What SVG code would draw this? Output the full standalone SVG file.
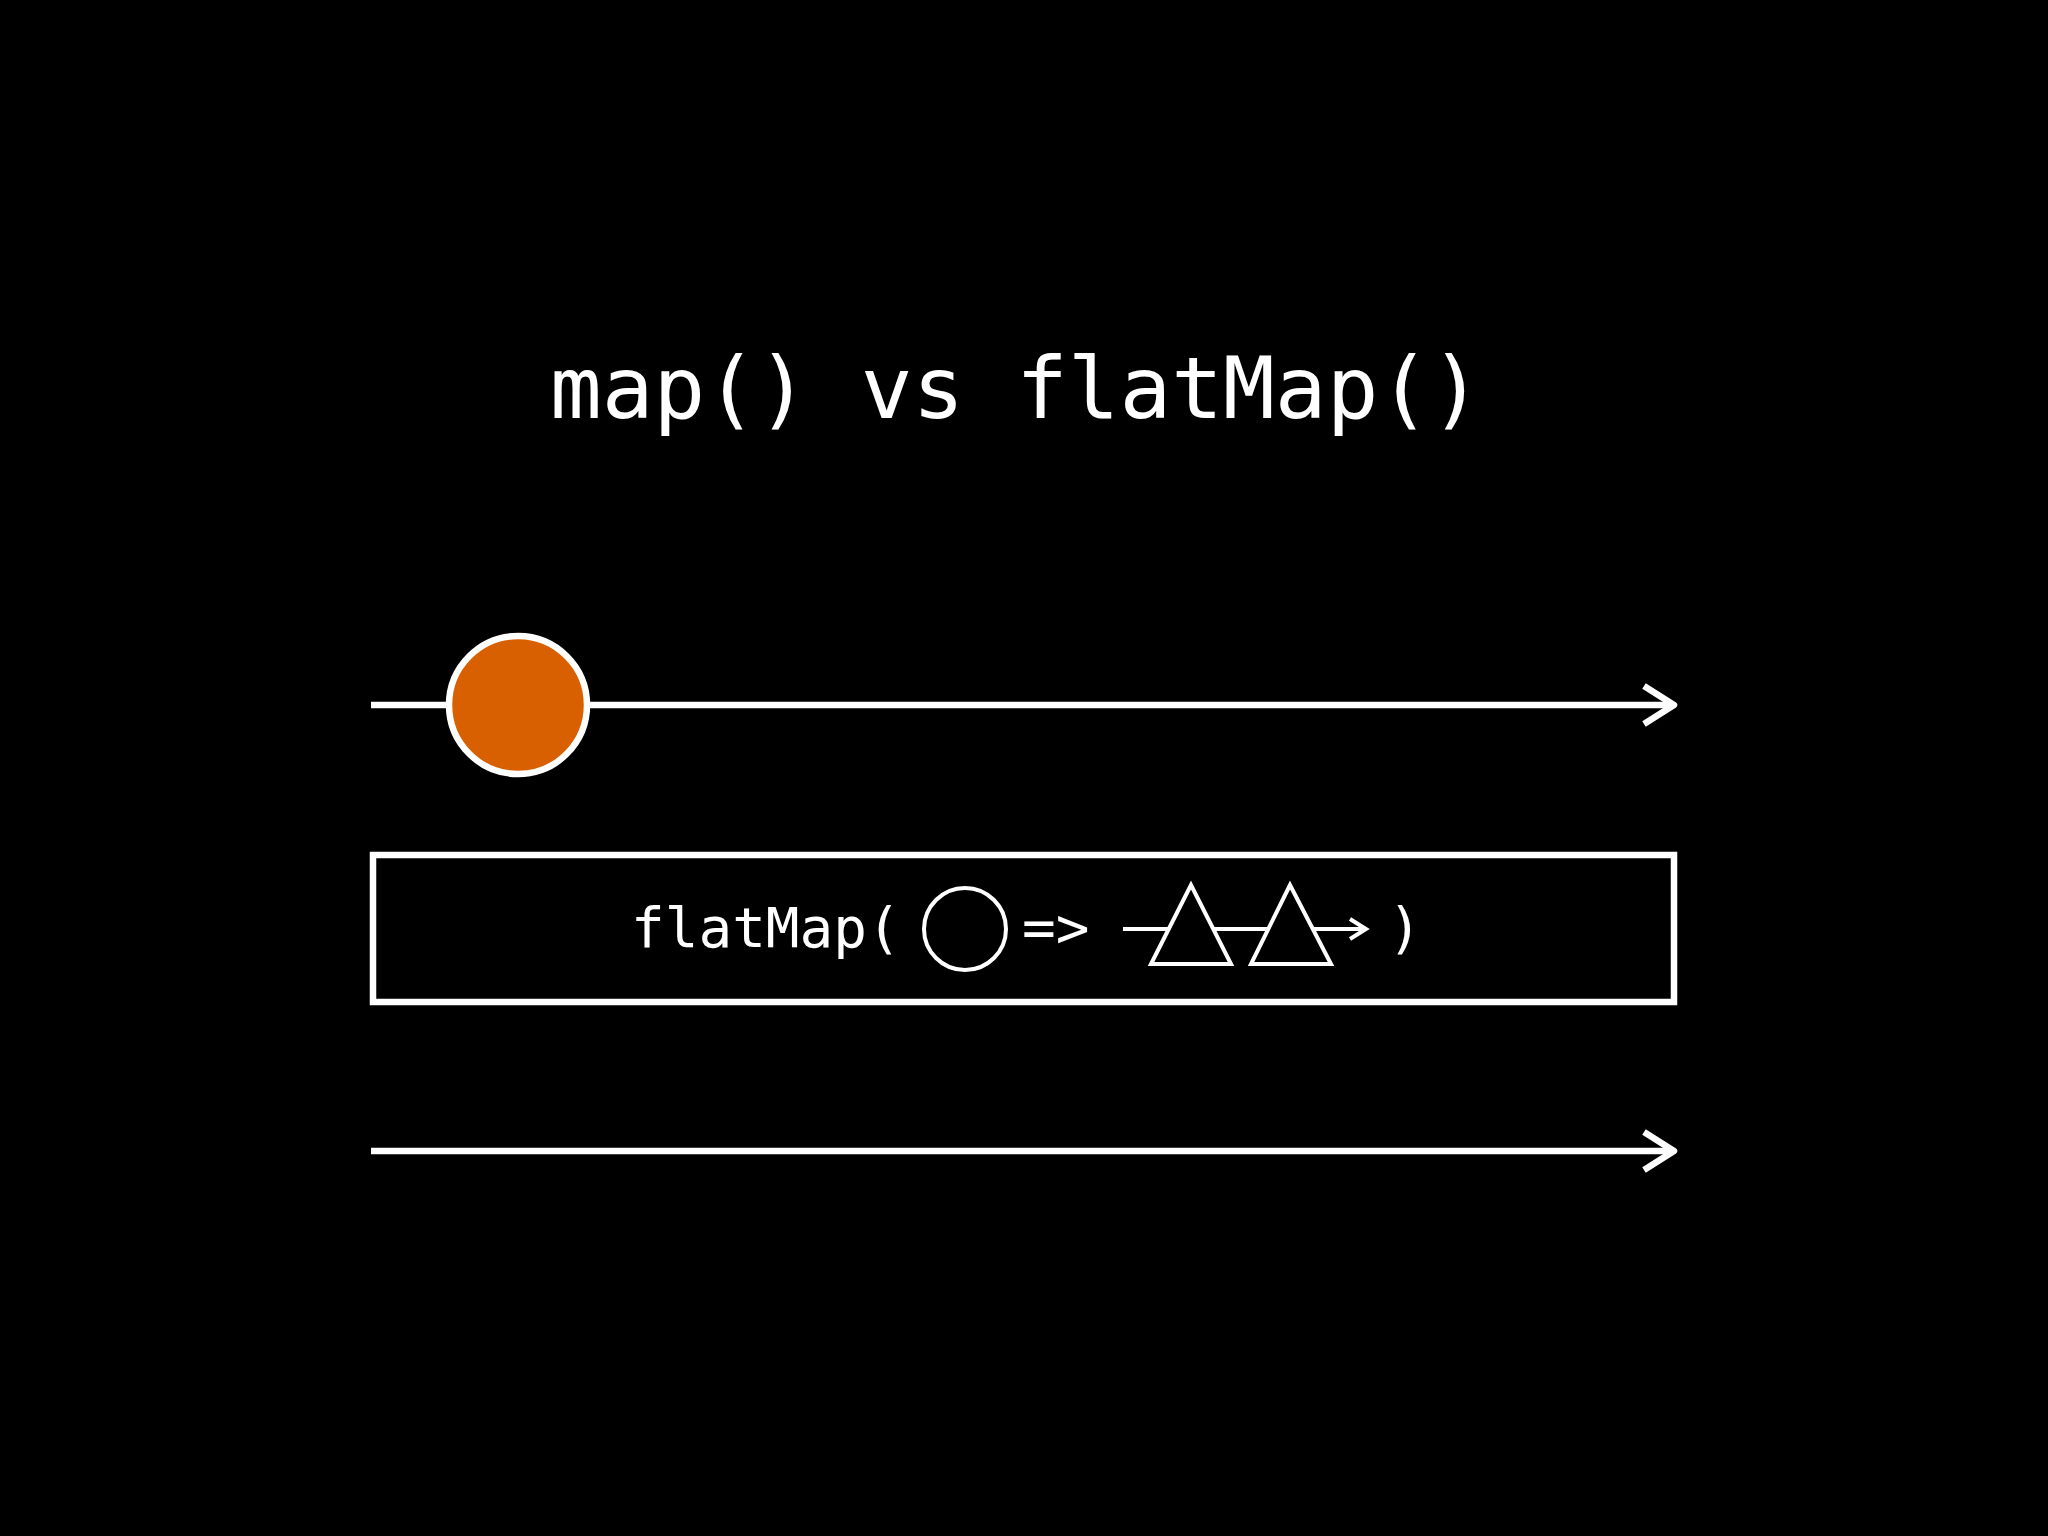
<svg xmlns="http://www.w3.org/2000/svg" width="2048" height="1536" viewBox="0 0 2048 1536">
<style>
.t{font-family:"DejaVu Sans Mono","Liberation Mono",monospace;fill:#fff}
.s{fill:none;stroke:#fff;stroke-width:6.5}
.m{fill:none;stroke:#fff;stroke-width:4}
</style>
<rect width="2048" height="1536" fill="#000"/>
<text class="t" x="1016" y="418" font-size="86" text-anchor="middle">map() vs flatMap()</text>
<g id="connectors">
<line class="s" x1="371" y1="705" x2="1672" y2="705"/>
<polyline class="s" points="1644,686 1674,705 1644,724" stroke-linejoin="round"/>
<line class="s" x1="371" y1="1151" x2="1672" y2="1151"/>
<polyline class="s" points="1644,1132 1674,1151 1644,1170" stroke-linejoin="round"/>
</g>
<g id="event"><circle cx="518" cy="705" r="69" fill="#d86000" stroke="#fff" stroke-width="6.5"/></g>
<g id="operator">
<rect class="s" x="373" y="855" width="1301" height="147"/>
<text class="t" x="631" y="947" font-size="56">flatMap(</text>
<circle class="m" cx="965" cy="929" r="41"/>
<text class="t" x="1022" y="947" font-size="56">=&gt;</text>
<line class="m" x1="1123" y1="929" x2="1366" y2="929"/>
<polyline class="m" points="1350,919 1366,929 1350,939"/>
<polygon points="1191,885 1151,964 1231,964" fill="#000" stroke="#fff" stroke-width="4"/>
<polygon points="1290,885 1251,964 1331,964" fill="#000" stroke="#fff" stroke-width="4"/>
<text class="t" x="1388" y="947" font-size="56">)</text>
</g>
</svg>
